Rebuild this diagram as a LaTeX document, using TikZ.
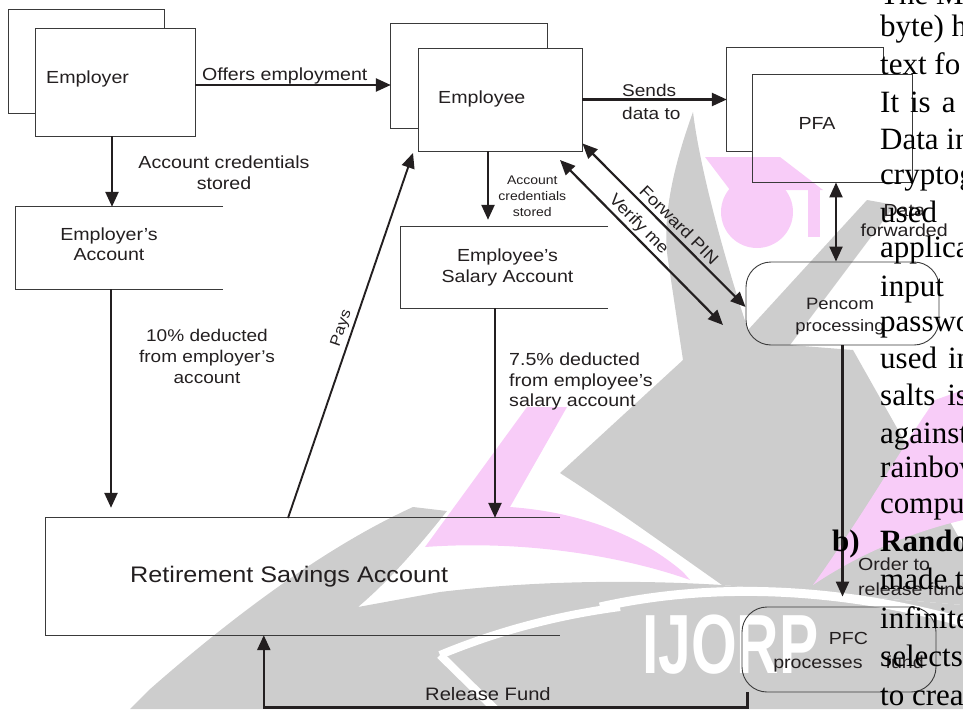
\documentclass[tikz,border=0pt]{standalone}
\usepackage{fontspec}
\setmainfont{Liberation Sans}[FakeStretch=1.12]
\newfontfamily\seriffont{Liberation Serif}
\newfontfamily\wmfont{Liberation Sans}
\usetikzlibrary{arrows.meta,calc}
\definecolor{ink}{HTML}{231F20}
\definecolor{wmgray}{HTML}{CDCDCD}
\definecolor{wmpink}{HTML}{F8CCF8}
\definecolor{boxline}{HTML}{3A3A3A}
\tikzset{
  frame/.style={draw=boxline, line width=0.9pt, inner sep=0pt},
  ghost/.style={draw=none, inner sep=0pt},
  openbox/.style={draw=boxline, line width=0.9pt},
  arr/.style={draw=ink, line width=2.4pt, -{Triangle[length=15pt,width=13pt]}},
  dblarr/.style={draw=ink, line width=2.2pt, {Triangle[length=15pt,width=13pt]}-{Triangle[length=15pt,width=13pt]}},
  txt/.style={text=ink, inner sep=0pt, font=\fontsize{17.5}{20.8}\selectfont},
  serifline/.style={text=black, inner sep=0pt, anchor=base west, font=\seriffont\fontsize{31}{37}\selectfont},
}
\begin{document}
\begin{tikzpicture}[x=1pt,y=-1pt]
\useasboundingbox (0,0) rectangle (963,709);
\clip (0,0) rectangle (963,709);

% ---------- watermark ----------
\fill[wmgray] (693,112) .. controls (672,170) and (662,220) .. (668,260) -- (683,360) -- (560,473)
  .. controls (610,505) and (665,545) .. (722,585) -- (963,605) -- (963,545) -- (853,350) -- (790,345)
  -- (895,205) -- (867,200) -- (748,330) .. controls (725,260) and (700,170) .. (693,112) -- cycle;
\fill[wmgray] (130,709) -- (149,690) .. controls (240,610) and (330,545) .. (413,507) -- (447,511)
  .. controls (420,545) and (390,580) .. (358,607) -- (440,592) .. controls (540,580) and (640,580) .. (722,585)
  -- (963,605) -- (963,709) -- cycle;
\draw[white, line width=8pt] (440,655) .. controls (500,630) and (560,615) .. (620,607);
\draw[white, line width=8pt] (440,655) -- (495,709);
\draw[white, line width=9pt] (600,607) .. controls (720,580) and (850,590) .. (963,622);
\fill[wmpink] (425,547) -- (527,407) -- (567,407) -- (510,507) .. controls (580,512) and (640,535) .. (683,572)
  -- (690,580) .. controls (620,555) and (520,540) .. (425,547) -- cycle;
\fill[wmpink] (705,157) -- (780,157) -- (823,190) -- (730,190) -- cycle;
\fill[wmpink] (757,212) circle (36);
\fill[wmpink] (808,188) rectangle (820,237);
\fill[wmpink] (935,400) -- (963,390) -- (963,520) .. controls (900,535) and (850,560) .. (813,585)
  .. controls (860,520) and (900,450) .. (935,400) -- cycle;
\node[anchor=base west, text=white, inner sep=0pt] (wmtext) at (642,673)
  {\scalebox{0.7}[1]{\wmfont\bfseries\fontsize{84}{84}\selectfont IJORP}};

% ---------- boxes ----------
\node[frame, minimum width=160pt, minimum height=108pt] (employer) at (115,82) {};
\node[ghost, minimum width=155pt, minimum height=103pt] (employerback) at (86.5,61.5) {};
\draw[openbox] (employerback.south west -| employer.west) -- (employerback.south west) -- (employerback.north west)
  -- (employerback.north east) -- (employerback.north east |- employer.north);
\node[txt, anchor=base west] (employerlbl) at (46,83.3) {Employer};

\node[frame, minimum width=164pt, minimum height=103pt] (employee) at (500,99.5) {};
\node[ghost, minimum width=156pt, minimum height=104pt] (employeeback) at (469,76) {};
\draw[openbox] (employeeback.south west -| employee.west) -- (employeeback.south west) -- (employeeback.north west)
  -- (employeeback.north east) -- (employeeback.north east |- employee.north);
\node[txt, anchor=base west] (employeelbl) at (438,103.3) {Employee};

\node[frame, minimum width=160pt, minimum height=108pt] (pfa) at (832,128) {};
\node[ghost, minimum width=156pt, minimum height=103pt] (pfaback) at (805,99.5) {};
\draw[openbox] (pfaback.south west -| pfa.west) -- (pfaback.south west) -- (pfaback.north west)
  -- (pfaback.north east) -- (pfaback.north east |- pfa.north);
\node[txt, anchor=base west] (pfalbl) at (798.3,129) {PFA};

\node[ghost, minimum width=207pt, minimum height=82pt] (eacc) at (119.5,248) {};
\draw[openbox] (eacc.north east) -- (eacc.north west) -- (eacc.south west) -- (eacc.south east);
\node[txt, align=center] (eacclbl) at (109,244.2) {Employer's\\Account};

\node[ghost, minimum width=207pt, minimum height=81pt] (salary) at (504.5,267.5) {};
\draw[openbox] (salary.north east) -- (salary.north west) -- (salary.south west) -- (salary.south east);
\node[txt, align=center, font=\fontsize{17.5}{21}\selectfont] (salarylbl) at (507.5,267.8) {Employee's\\Salary Account};

\node[ghost, minimum width=514pt, minimum height=117pt] (rsa) at (303,576.5) {};
\draw[openbox] (rsa.north east) -- (rsa.north west) -- (rsa.south west) -- (rsa.south east);
\node[txt, anchor=base west, font=\fontsize{22.5}{27}\selectfont] (rsalbl) at (130,582.7) {Retirement Savings Account};

\node[frame, rounded corners=25pt, minimum width=193pt, minimum height=83pt] (pencom) at (842.5,303.5) {};
\node[txt, align=center, font=\fontsize{16.5}{21.7}\selectfont] (pencomlbl) at (840,316.4) {Pencom\\processing};

\node[frame, rounded corners=25pt, minimum width=194pt, minimum height=85pt] (pfc) at (839,649.5) {};
\node[txt, align=center, font=\fontsize{17.5}{23.3}\selectfont] (pfclbl) at (848.5,652.3) {PFC\\processes\hspace{23pt}fund};

% ---------- connectors ----------
\draw[arr] ([yshift=-3pt]employer.east) -- ([yshift=-3pt]employer.east -| employeeback.west);
\node[txt, anchor=base west] (offerslbl) at (202,81) {Offers employment};

\draw[arr] ([xshift=-3pt]employer.south) -- ([xshift=-3pt]employer.south |- eacc.north);
\node[txt, align=center, font=\fontsize{17.5}{20.6}\selectfont] (credlbl) at (224,172.6) {Account credentials\\stored};

\draw[arr, shorten >=10pt] ([xshift=-8.5pt]eacc.south) -- ([xshift=-8.5pt]eacc.south |- rsa.north);
\node[txt, align=center, font=\fontsize{17}{20.8}\selectfont] (tenlbl) at (207,356.5) {10\% deducted\\from employer's\\account};

\coordinate (paysA) at (288,518);
\coordinate (paysB) at (413,153);
\draw[arr, line width=1.9pt] (paysA) -- (paysB)
  node[pos=0.51, sloped, above, inner sep=3pt, text=ink, font=\fontsize{15}{18}\selectfont] (payslbl) {Pays};

\draw[arr, shorten >=7pt] ([xshift=-12pt]employee.south) -- ([xshift=-12pt]employee.south |- salary.north);
\node[txt, align=center, font=\fontsize{12.5}{15.9}\selectfont] (smallcred) at (532.3,195.9) {Account\\credentials\\stored};

\draw[arr] ([xshift=-9.5pt]salary.south) -- ([xshift=-9.5pt]salary.south |- rsa.north);
\node[txt, anchor=west, align=left, font=\fontsize{17.5}{20.8}\selectfont] (sevenlbl) at (509,381.5) {7.5\% deducted\\from employee's\\salary account};

\draw[arr] (employee.east) -- (pfaback.west);
\node[txt, anchor=west, align=left, font=\fontsize{17}{22.3}\selectfont] (sendslbl) at (622,101.8) {Sends\\data to};

\draw[dblarr] ([yshift=8pt]employee.south east) -- ([yshift=-3.5pt]pencom.west)
  node[pos=0.545, sloped, above, inner sep=4pt, text=ink, font=\fontsize{16.5}{20}\selectfont] (fwdlbl) {Forward PIN};

\coordinate (verA) at (560,160);
\coordinate (verB) at (723,325);
\draw[dblarr] (verA) -- (verB)
  node[pos=0.436, sloped, above, inner sep=1.5pt, text=ink, font=\fontsize{16.5}{20}\selectfont] (verlbl) {Verify me};

\draw[dblarr] ([xshift=4pt]pfa.south) -- ([xshift=4pt]pfa.south |- pencom.north);
\node[txt, align=center, font=\fontsize{17.5}{20}\selectfont] (datalbl) at (904.2,220.6) {Data\\forwarded};

\draw[arr, shorten >=10pt] (pencom.south) -- (pencom.south |- pfc.north);
\node[txt, anchor=west, align=left, font=\fontsize{17.5}{25}\selectfont] (orderlbl) at (858,576.4) {Order to\\release fund};

\draw[arr, line width=2.6pt] ([xshift=6pt]pfc.south west) -- ++(0,15) -| ($(rsa.south west)+(218,0)$);
\node[txt, anchor=base west, font=\fontsize{18}{21}\selectfont] (releaselbl) at (425,700) {Release Fund};

% ---------- overlapping page text ----------
\node[serifline] (s0) at (880,5) {The M};
\node[serifline] (s1) at (880,36.7) {byte) h};
\node[serifline] (s2) at (880,74.5) {text fo};
\node[serifline] (s3) at (880,112) {It\hspace{11pt}is\hspace{11pt}a};
\node[serifline] (s4) at (880,149.5) {Data in};
\node[serifline] (s5) at (880,184) {cryptog};
\node[serifline] (s6) at (880,222) {used};
\node[serifline] (s7) at (880,257.5) {applica};
\node[serifline] (s8) at (880,296) {input};
\node[serifline] (s9) at (880,331.5) {passwo};
\node[serifline] (s10) at (880,368.5) {used\hspace{11pt}in};
\node[serifline] (s11) at (880,405.5) {salts\hspace{12pt}is};
\node[serifline] (s12) at (880,443) {against};
\node[serifline] (s13) at (880,477.5) {rainbow};
\node[serifline] (s14) at (880,513.5) {comput};
\node[serifline, font=\seriffont\bfseries\fontsize{31}{37}\selectfont] (s15a) at (832,551.7) {b)};
\node[serifline, font=\seriffont\bfseries\fontsize{31}{37}\selectfont] (s15b) at (880,551.7) {Random};
\node[serifline] (s16) at (880,589) {made t};
\node[serifline] (s17) at (880,628) {infinite};
\node[serifline] (s18) at (880,666.7) {selects};
\node[serifline] (s19) at (880,705) {to create};
\end{tikzpicture}
\end{document}
